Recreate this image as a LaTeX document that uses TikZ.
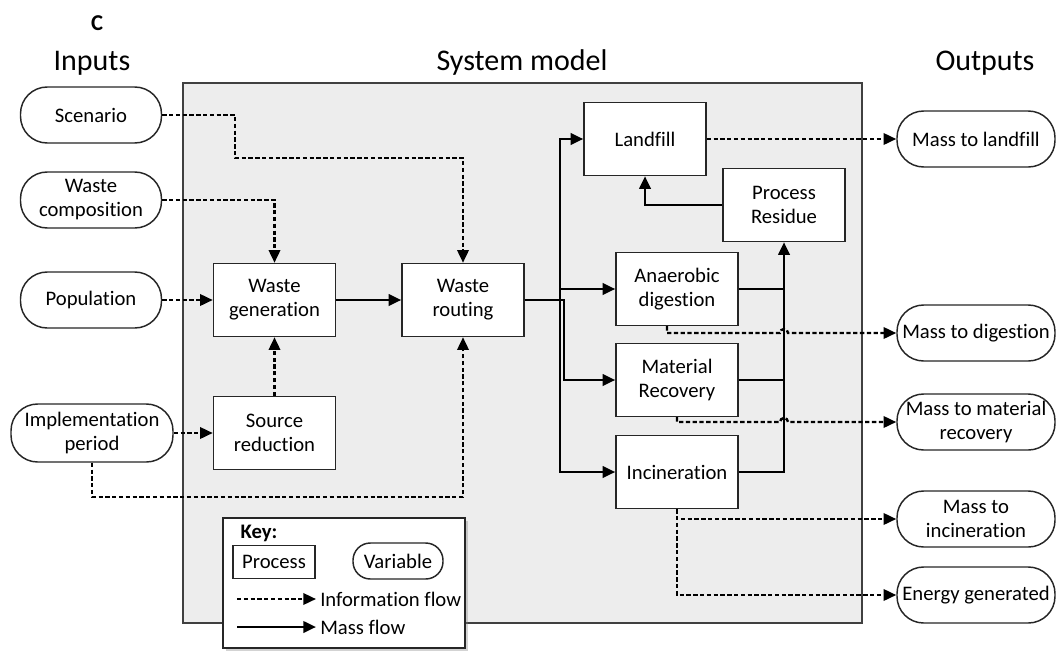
\documentclass[tikz,border=0pt]{standalone}
\usepackage{fontspec}
\setmainfont{Carlito}[RawFeature=-liga]
\usetikzlibrary{arrows.meta,calc,shadows}
\newcommand\dgfont{\fontsize{15.5}{18}\selectfont}
\newcommand\dgtitle{\fontsize{22.5}{27}\selectfont}
\begin{document}
\begin{tikzpicture}[x=0.75pt,y=-0.75pt,
  every node/.style={font=\dgfont, text=black},
  proc/.style={draw=black!85, line width=1.1pt, fill=white, minimum width=91.5pt, minimum height=54.75pt, align=center, inner sep=1pt},
  var/.style={draw=black!85, line width=1.1pt, fill=white, rounded corners=20pt, minimum width=105.75pt, minimum height=42pt, align=center, inner sep=1pt},
  outv/.style={var, minimum width=118.5pt},
  info/.style={line width=1.8pt, dash pattern=on 3.2pt off 1.9pt, -{Triangle[length=9.5pt,width=8.5pt]}},
  mass/.style={line width=2pt, -{Triangle[length=9.5pt,width=8.5pt]}},
  massline/.style={line width=2pt},
  ttl/.style={font=\dgtitle}
]
\useasboundingbox (0,0) rectangle (1057,650);

% titles
\node[font=\bfseries\fontsize{17}{20}\selectfont] (lbl) at (97,23) {C};
\node[ttl] (tin) at (92,63) {Inputs};
\node[ttl] (tsys) at (522,63) {System model};
\node[ttl] (tout) at (985,63) {Outputs};

% system model background
\node[draw=black!75, line width=0.8pt, fill=black!7, minimum width=509.25pt, minimum height=405pt, inner sep=0pt] (sys) at (522.5,353) {};

% inputs
\node[var] (sc) at (91,115) {Scenario};
\node[var] (wc) at (91,200) {Waste\\composition};
\node[var] (pop) at (91,300) {Population};
\node[var, minimum width=121.5pt, minimum height=43.5pt] (ip) at (92,433) {Implementation\\period};

% processes
\node[proc] (wg) at (274.5,300) {Waste\\generation};
\node[proc] (sr) at (274.5,433) {Source\\reduction};
\node[proc] (wr) at (463,300) {Waste\\routing};
\node[proc] (lf) at (645,139) {Landfill};
\node[proc] (pr) at (784,205) {Process\\Residue};
\node[proc] (ad) at (677,289) {Anaerobic\\digestion};
\node[proc] (mr) at (677,380) {Material\\Recovery};
\node[proc] (inc) at (677,472) {Incineration};

% outputs
\node[outv] (ml) at (976,139) {Mass to landfill};
\node[outv] (md) at (976,333) {Mass to digestion};
\node[outv] (mm) at (976,422) {Mass to material\\recovery};
\node[outv] (mi) at (976,519) {Mass to\\incineration};
\node[outv] (eg) at (976,595) {Energy generated};

% information flows (inputs)
\coordinate (c1) at (235,158);
\coordinate (c2) at (92,497);
\draw[info] (sc.east) -| (c1) -| (wr.north);
\draw[info] (wc.east) -| (wg.north);
\draw[info] (pop.east) -- (wg.west);
\draw[info] (sr.north) -- (wg.south);
\draw[info] (ip.east) -- (sr.west);
\draw[info] (ip.south) -- (c2) -| (wr.south);

% mass flows
\coordinate (j) at (560,300);
\coordinate (j2) at (564,300);
\draw[mass] (wg.east) -- (wr.west);
\draw[mass] (wr.east) -- (j) |- (lf.west);
\draw[mass] (j) |- (ad.west);
\draw[mass] (wr.east) -- (j2) |- (mr.west);
\draw[mass] (j) |- (inc.west);
\draw[massline] (ad.east) -- (ad.east -| pr.south);
\draw[massline] (mr.east) -- (mr.east -| pr.south);
\draw[mass] (inc.east) -| (pr.south);
\draw[mass] (pr.west) -| (lf.south);

% information flows (outputs)
\draw[info] (lf.east) -- (ml.west);
\draw[info] ($(ad.south)+(-10,0)$) |- ($(pr.south |- md.west)+(-4,0)$) arc[start angle=180,end angle=0,radius=3pt] -- (md.west);
\draw[info] (mr.south) |- ($(pr.south |- mm.west)+(-4,0)$) arc[start angle=180,end angle=0,radius=3pt] -- (mm.west);
\draw[info] (inc.south) |- (mi.west);
\draw[info] (inc.south) |- (eg.west);

% key
\node[draw=black!85, line width=1.1pt, fill=white, minimum width=181.5pt, minimum height=97.5pt, inner sep=0pt,
  drop shadow={shadow xshift=2pt, shadow yshift=-2pt, opacity=0.35}] (key) at (344,583) {};
\node[anchor=west, font=\bfseries\dgfont] (keyt) at (236,533) {Key:};
\node[draw=black!85, line width=1.1pt, minimum width=61.5pt, minimum height=24.75pt, inner sep=1pt] (kp) at (274,562) {Process};
\node[draw=black!85, line width=1.1pt, rounded corners=13pt, minimum width=67.5pt, minimum height=27pt, inner sep=1pt] (kv) at (398,561) {Variable};
\coordinate (ki1) at (237,599);
\coordinate (ki2) at (316,599);
\coordinate (km1) at (237,627);
\coordinate (km2) at (316,627);
\draw[info] (ki1) -- (ki2);
\draw[mass] (km1) -- (km2);
\node[anchor=west, inner sep=0pt] (kit) at (320,599) {Information flow};
\node[anchor=west, inner sep=0pt] (kmt) at (320,627) {Mass flow};
\end{tikzpicture}
\end{document}
